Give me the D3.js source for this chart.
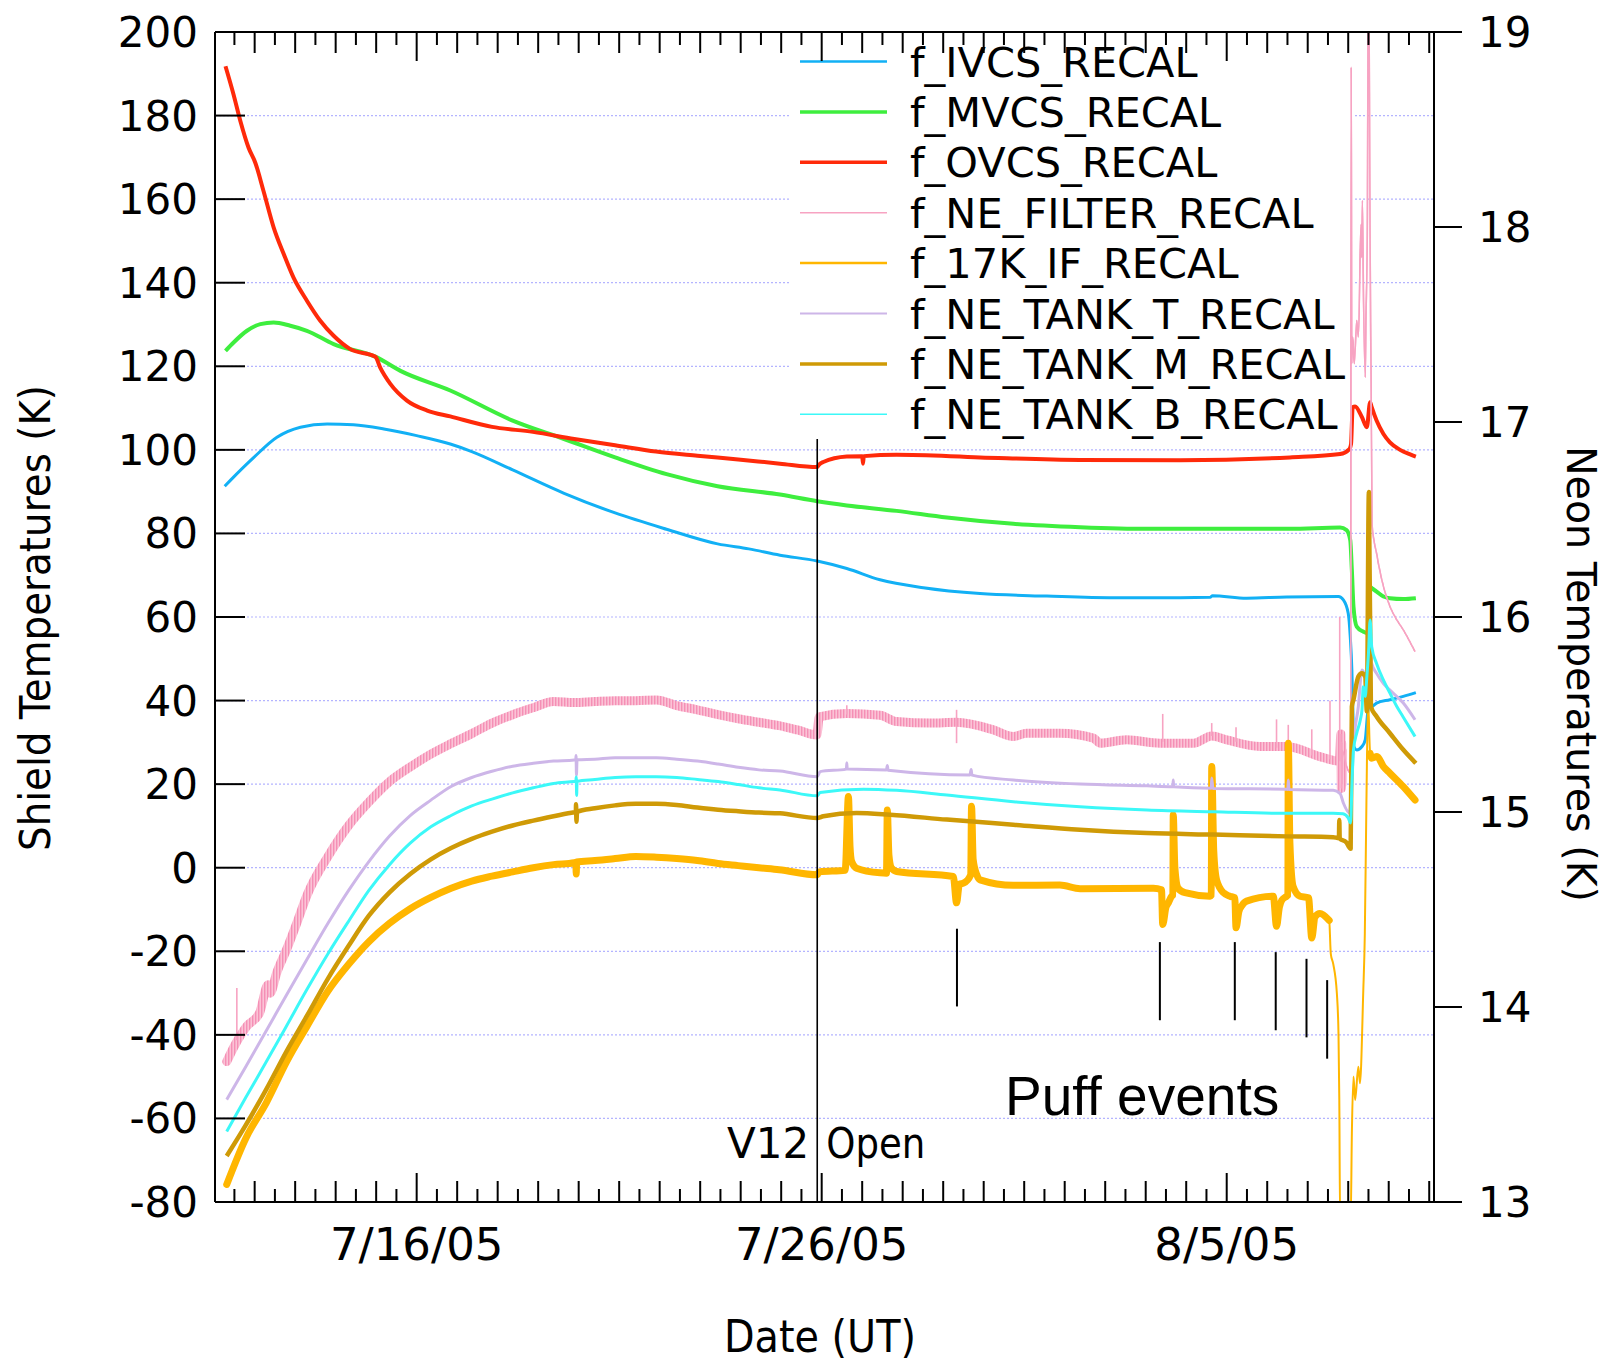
<!DOCTYPE html>
<html><head><meta charset="utf-8">
<script src="https://cdn.jsdelivr.net/npm/d3@7"></script>
<style>
html,body{margin:0;padding:0;background:#fff;}
svg{display:block;}
text{font-family:"DejaVu Sans",sans-serif;fill:#000;}
</style>
</head><body>
<svg id="chart" width="1608" height="1361"></svg>
<script>
// ---- data (time = day of July 2005, 32 = Aug 1) ----
const seriesNames = ["f_IVCS_RECAL","f_MVCS_RECAL","f_OVCS_RECAL","f_NE_FILTER_RECAL","f_17K_IF_RECAL","f_NE_TANK_T_RECAL","f_NE_TANK_M_RECAL","f_NE_TANK_B_RECAL"];

// shield temperatures (left axis, K)
const ivcs = [[11.26,91.3],[11.40,92.7],[11.98,98.2],[12.55,103.0],[13.13,105.4],[13.79,106.2],[14.44,106.0],[15.19,105.0],[16.00,103.4],[16.83,101.4],[17.36,99.6],[18.37,95.2],[19.64,89.6],[20.90,84.9],[22.17,81.0],[23.43,77.5],[24.20,76.3],[24.97,74.8],[25.89,73.4],[26.62,71.6],[27.44,68.9],[28.51,67.0],[29.91,65.6],[31.56,65.0],[33.21,64.6],[34.85,64.6],[35.59,64.7],[35.65,65.1],[36.49,64.5],[37.48,64.8],[38.76,64.9],[38.88,64.1],[39.00,60.9],[39.05,55.3],[39.09,47.3],[39.11,39.4],[39.14,29.0],[39.21,28.2],[39.34,29.0],[39.42,30.6],[39.48,37.0],[39.54,39.5],[39.58,38.6],[39.70,39.4],[40.03,40.2],[40.36,41.0],[40.67,41.9]];
const mvcs = [[11.28,123.7],[11.48,125.7],[11.81,128.5],[12.14,130.1],[12.47,130.5],[12.88,129.7],[13.29,128.5],[13.95,125.3],[14.98,122.3],[15.60,118.9],[16.83,114.2],[18.37,107.0],[19.64,102.6],[20.90,98.2],[22.17,94.2],[23.43,91.3],[24.97,89.3],[25.89,87.7],[26.62,86.7],[27.85,85.4],[29.09,83.8],[30.73,82.3],[32.38,81.5],[34.03,81.1],[35.68,81.1],[37.56,81.1],[38.80,81.4],[38.96,80.8],[39.05,78.4],[39.09,71.2],[39.13,62.5],[39.21,57.7],[39.37,56.5],[39.48,56.1],[39.53,67.3],[39.58,66.9],[39.70,66.1],[39.87,64.9],[40.03,64.5],[40.36,64.3],[40.67,64.5]];
const ovcs = [[11.28,191.8],[11.48,185.0],[11.65,178.6],[11.85,172.3],[12.02,168.6],[12.22,161.9],[12.47,153.2],[12.72,146.8],[12.96,141.2],[13.29,135.7],[13.62,130.9],[13.95,127.3],[14.36,124.1],[14.98,122.3],[15.10,119.7],[15.35,115.8],[15.76,111.8],[16.26,109.4],[16.83,108.0],[17.86,105.5],[18.87,104.3],[19.89,102.6],[20.90,101.1],[21.91,99.6],[22.93,98.6],[23.94,97.7],[24.97,96.7],[25.89,95.9],[25.93,96.4],[26.04,97.1],[26.62,98.4],[27.00,98.5],[27.02,96.7],[27.04,98.5],[27.85,98.8],[29.91,98.2],[32.38,97.6],[34.85,97.5],[37.56,98.2],[38.80,99.0],[39.03,100.2],[39.07,101.4],[39.11,110.2],[39.17,110.4],[39.34,107.8],[39.46,105.4],[39.54,111.4],[39.58,110.2],[39.70,107.0],[39.87,103.8],[40.03,101.8],[40.28,100.0],[40.53,98.9],[40.67,98.4]];

// neon temperatures (right axis, K)
const neFilter = [[11.31,13.720],[11.50,13.800],[11.80,13.900],[12.12,13.969],[12.33,14.114],[12.38,14.071],[12.55,14.179],[12.79,14.296],[13.05,14.436],[13.30,14.577],[13.81,14.772],[14.32,14.931],[14.82,15.051],[15.33,15.156],[15.84,15.231],[16.35,15.297],[16.85,15.351],[17.36,15.402],[17.86,15.456],[18.37,15.499],[18.88,15.535],[19.38,15.567],[19.89,15.561],[20.40,15.567],[20.90,15.571],[21.41,15.571],[21.92,15.575],[22.42,15.546],[22.93,15.524],[23.44,15.499],[23.94,15.478],[24.45,15.460],[24.95,15.443],[25.40,15.421],[25.88,15.395],[25.94,15.488],[26.62,15.505],[27.44,15.496],[27.85,15.464],[28.68,15.456],[29.32,15.460],[30.24,15.421],[30.73,15.387],[31.06,15.404],[31.88,15.404],[32.71,15.379],[32.87,15.353],[33.53,15.370],[34.35,15.353],[35.18,15.353],[35.63,15.390],[36.00,15.370],[36.82,15.336],[37.48,15.336],[38.30,15.284],[38.63,15.265],[38.78,15.260],[38.82,15.400],[38.83,15.121],[38.84,15.357],[38.85,15.143],[38.86,15.314],[38.96,15.233],[39.05,15.199],[39.06,15.200],[39.075,18.820],[39.09,17.300],[39.11,17.436],[39.15,17.299],[39.21,17.521],[39.25,17.436],[39.30,17.896],[39.32,18.014],[39.33,17.843],[39.35,18.136],[39.38,17.607],[39.42,17.230],[39.44,17.543],[39.47,17.929],[39.50,19.600],[39.54,17.982],[39.59,16.471],[39.70,16.326],[39.87,16.156],[40.03,16.054],[40.20,15.985],[40.36,15.934],[40.65,15.822]];
// narrow spikes on the filter trace: [day, low, high]
const neFilterSpikes = [[11.56,13.83,14.097],[26.62,15.50,15.548],[29.33,15.353,15.524],[34.42,15.36,15.503],[35.63,15.39,15.456],[36.23,15.36,15.434],[37.23,15.33,15.475],[37.52,15.32,15.447],[38.10,15.29,15.424],[38.55,15.27,15.571],[38.79,15.26,16.000]];
const if17k = [[11.31,13.090],[11.78,13.326],[12.29,13.510],[12.79,13.720],[13.30,13.904],[13.81,14.082],[14.32,14.219],[14.82,14.335],[15.33,14.429],[15.84,14.504],[16.35,14.562],[16.85,14.609],[17.36,14.646],[17.86,14.671],[18.37,14.693],[18.88,14.714],[19.38,14.730],[19.89,14.740],[19.93,14.742],[19.94,14.682],[19.95,14.744],[20.40,14.751],[20.90,14.761],[21.41,14.772],[21.92,14.768],[22.42,14.761],[22.93,14.751],[23.44,14.736],[23.94,14.725],[24.45,14.714],[24.95,14.704],[25.89,14.678],[25.94,14.693],[26.58,14.701],[26.66,15.079],[26.70,14.821],[26.74,14.746],[26.86,14.712],[27.44,14.688],[27.60,14.686],[27.62,15.010],[27.66,14.779],[27.72,14.714],[27.85,14.695],[29.25,14.669],[29.33,14.534],[29.40,14.630],[29.50,14.635],[29.68,14.678],[29.70,15.029],[29.74,14.757],[29.83,14.678],[29.91,14.652],[30.73,14.624],[31.88,14.626],[32.38,14.607],[34.19,14.609],[34.39,14.601],[34.42,14.423],[34.50,14.511],[34.56,14.534],[34.64,14.568],[34.67,14.573],[34.68,14.986],[34.72,14.714],[34.80,14.609],[34.97,14.586],[35.59,14.568],[35.62,14.573],[35.63,15.233],[35.68,14.800],[35.75,14.652],[35.92,14.586],[36.08,14.568],[36.20,14.560],[36.23,14.406],[36.30,14.489],[36.37,14.518],[36.49,14.543],[37.15,14.568],[37.23,14.414],[37.30,14.511],[37.36,14.547],[37.48,14.568],[37.51,14.573],[37.52,15.353],[37.56,14.843],[37.64,14.618],[37.81,14.568],[38.02,14.560],[38.10,14.354],[38.18,14.461],[38.30,14.479],[38.53,14.444],[38.57,14.273],[38.63,14.221],[38.72,14.069],[38.76,13.864],[38.78,13.523],[38.80,12.890],[39.06,12.890],[39.09,13.351],[39.13,13.643],[39.17,13.523],[39.25,13.694],[39.29,13.609],[39.37,14.069],[39.41,14.376],[39.45,15.059],[39.49,15.571],[39.54,15.301],[39.58,15.276],[39.71,15.284],[39.87,15.233],[40.03,15.199],[40.36,15.130],[40.65,15.061]];
const tankT = [[11.31,13.525],[11.78,13.694],[12.29,13.879],[12.79,14.063],[13.30,14.247],[13.81,14.429],[14.32,14.598],[14.82,14.746],[15.33,14.877],[15.84,14.982],[16.35,15.061],[16.85,15.131],[17.36,15.177],[17.86,15.209],[18.37,15.235],[18.88,15.250],[19.38,15.261],[19.89,15.267],[19.93,15.268],[19.935,15.290],[19.945,15.190],[19.96,15.268],[20.40,15.271],[20.90,15.278],[21.41,15.278],[21.92,15.278],[22.42,15.271],[22.93,15.261],[23.44,15.246],[23.94,15.229],[24.45,15.216],[24.97,15.210],[25.89,15.181],[25.96,15.207],[26.61,15.220],[26.62,15.252],[26.63,15.220],[27.60,15.216],[27.62,15.239],[27.64,15.214],[29.66,15.190],[29.69,15.218],[29.71,15.189],[30.73,15.164],[32.38,15.143],[34.03,15.134],[34.67,15.130],[34.68,15.164],[34.69,15.129],[35.62,15.122],[35.63,15.175],[35.66,15.121],[37.48,15.117],[37.51,15.116],[37.52,15.164],[37.54,15.115],[38.63,15.111],[38.80,15.094],[38.88,15.046],[39.03,14.995],[39.09,15.164],[39.13,15.336],[39.25,15.541],[39.34,15.728],[39.42,15.694],[39.48,15.576],[39.54,15.814],[39.58,15.762],[39.70,15.711],[39.87,15.659],[40.03,15.625],[40.36,15.559],[40.65,15.473]];
const tankM = [[11.31,13.236],[11.78,13.394],[12.29,13.579],[12.79,13.774],[13.30,13.958],[13.81,14.146],[14.32,14.314],[14.82,14.468],[15.33,14.588],[15.84,14.682],[16.35,14.757],[16.85,14.815],[17.36,14.862],[17.86,14.899],[18.37,14.931],[18.88,14.956],[19.38,14.978],[19.89,14.999],[19.93,15.000],[19.935,15.040],[19.945,14.950],[19.96,15.001],[20.40,15.019],[20.90,15.034],[21.41,15.042],[21.92,15.042],[22.42,15.036],[22.93,15.023],[23.44,15.012],[23.94,15.004],[24.45,14.997],[24.97,14.993],[25.89,14.969],[26.04,14.978],[26.86,14.995],[27.69,14.986],[29.09,14.961],[30.73,14.935],[32.38,14.909],[34.03,14.892],[35.68,14.884],[37.48,14.875],[38.63,14.871],[38.77,14.866],[38.78,14.959],[38.79,14.864],[38.95,14.845],[39.06,14.811],[39.09,15.541],[39.13,15.576],[39.25,15.694],[39.34,15.711],[39.42,15.694],[39.46,15.516],[39.51,16.641],[39.56,15.541],[39.70,15.490],[40.03,15.404],[40.36,15.319],[40.67,15.250]];
const tankB = [[11.31,13.362],[11.78,13.536],[12.29,13.720],[12.79,13.904],[13.30,14.093],[13.81,14.273],[14.32,14.440],[14.82,14.598],[15.33,14.730],[15.84,14.840],[16.35,14.924],[16.85,14.982],[17.36,15.031],[17.86,15.066],[18.37,15.098],[18.88,15.124],[19.38,15.146],[19.89,15.156],[19.93,15.157],[19.94,15.180],[19.95,15.085],[19.96,15.158],[20.40,15.167],[20.90,15.177],[21.41,15.181],[21.92,15.181],[22.42,15.177],[22.93,15.167],[23.44,15.156],[23.94,15.141],[24.45,15.124],[24.97,15.113],[25.89,15.083],[25.96,15.100],[27.03,15.117],[27.85,15.111],[29.09,15.087],[30.73,15.053],[32.38,15.027],[34.03,15.010],[35.68,15.001],[37.48,14.993],[38.63,14.994],[38.87,14.991],[39.00,14.970],[39.06,14.944],[39.09,15.130],[39.13,15.319],[39.21,15.404],[39.30,15.473],[39.34,15.524],[39.37,15.642],[39.42,15.593],[39.46,15.694],[39.50,15.814],[39.54,15.985],[39.58,15.848],[39.70,15.762],[39.87,15.676],[40.03,15.610],[40.20,15.541],[40.36,15.486],[40.65,15.387]];

// axes
const leftTicks = [-80,-60,-40,-20,0,20,40,60,80,100,120,140,160,180,200];
const rightTicks = [13,14,15,16,17,18,19];
const dateLabels = ["7/16/05","7/26/05","8/5/05"];
const dateLabelDays = [16,26,36];

// annotations
const v12Day = 25.89, v12Top = 102.6;
const puffDays = [29.34,34.35,36.20,37.21,37.97,38.48];
const puffTop = [-14.6,-17.8,-17.8,-20.2,-21.8,-26.9];
const puffBottom = [-33.2,-36.5,-36.5,-38.9,-40.6,-45.7];

// ---- drawing ----
const svg = d3.select("#chart");
const L = 215, R = 1434, T = 32, B = 1202;
const dayToDate = d => new Date(Date.UTC(2005,6,1) + (d-1)*864e5);
const x = d3.scaleUtc().domain([dayToDate(11.0208), dayToDate(41.118)]).range([L,R]);
const yL = d3.scaleLinear().domain([-80,200]).range([B,T]);
const yR = d3.scaleLinear().domain([13,19]).range([B,T]);

svg.append("rect").attr("width",1608).attr("height",1361).attr("fill","#fff");
const defs = svg.append("defs");
defs.append("clipPath").attr("id","plot").append("rect").attr("x",L).attr("y",T).attr("width",R-L).attr("height",B-T);
// vertical hatch used for the noisy filter trace
const hatch = defs.append("pattern").attr("id","pinkHatch").attr("patternUnits","userSpaceOnUse")
  .attr("width",3).attr("height",12);
hatch.append("rect").attr("width",3).attr("height",12).attr("fill","#fbc3d6");
hatch.append("rect").attr("width",1.4).attr("height",12).attr("fill","#f58fb5");

// gridlines
svg.append("g").selectAll("line").data(leftTicks.filter(v=>v>-80 && v<200)).join("line")
  .attr("x1",L).attr("x2",R).attr("y1",d=>yL(d)).attr("y2",d=>yL(d))
  .attr("stroke","#b4b4ff").attr("stroke-width",1.2).attr("stroke-dasharray","2,2");

// legend background
svg.append("rect").attr("x",790).attr("y",34).attr("width",563).attr("height",406).attr("fill","#fff");

const series = [
  {data:ivcs, y:yL, color:"#12b0f5", w:3,   lw:2.5},
  {data:mvcs, y:yL, color:"#3eee3e", w:4,   lw:3.5},
  {data:ovcs, y:yL, color:"#ff2a0a", w:4,   lw:3.5},
  {data:neFilter, y:yR, color:"#f7a3c2", w:1.5, lw:1.5, band:9, bandPaint:"url(#pinkHatch)", bandOn:d=>d[0]<=38.87},
  {data:if17k, y:yR, color:"#ffb600", w:2,  lw:2.5, band:7, bandOn:d=>d[0]<38.55||d[0]>39.52},
  {data:tankT, y:yR, color:"#cdb6e8", w:3,  lw:2},
  {data:tankM, y:yR, color:"#cf9a06", w:4.5,lw:3.5},
  {data:tankB, y:yR, color:"#3cf8f8", w:3,  lw:1.5}
];

const gData = svg.append("g").attr("clip-path","url(#plot)");
series.forEach((s,i) => {
  const mk = () => d3.line().curve(d3.curveMonotoneX).x(d=>x(dayToDate(d[0]))).y(d=>s.y(d[1]));
  if (s.band) {
    gData.append("path").attr("d", mk().defined(s.bandOn)(s.data))
      .attr("fill","none").attr("stroke",s.bandPaint || s.color).attr("stroke-width",s.band)
      .attr("stroke-linejoin","round").attr("stroke-linecap","round");
  }
  gData.append("path").attr("d",mk()(s.data)).attr("fill","none")
    .attr("stroke",s.bandPaint || s.color).attr("stroke-width",s.w).attr("stroke-linejoin","round");
  if (i === 3) {
    gData.append("g").selectAll("line").data(neFilterSpikes).join("line")
      .attr("x1",d=>x(dayToDate(d[0]))).attr("x2",d=>x(dayToDate(d[0])))
      .attr("y1",d=>yR(d[1])).attr("y2",d=>yR(d[2]))
      .attr("stroke",s.color).attr("stroke-width",1.6);
    // thin trace after the noisy section
    gData.append("path").attr("d",mk().defined(d=>d[0]>=38.8)(s.data)).attr("fill","none")
      .attr("stroke",s.color).attr("stroke-width",1.5).attr("stroke-linejoin","round");
  }
});

// annotations
const xv = x(dayToDate(v12Day));
svg.append("line").attr("x1",xv).attr("x2",xv).attr("y1",yL(v12Top)).attr("y2",B).attr("stroke","#000").attr("stroke-width",1.6);
svg.append("text").attr("x",xv-8).attr("y",1158).attr("text-anchor","end").attr("font-size",42).text("V12");
svg.append("text").attr("x",xv+9).attr("y",1158).attr("font-size",42)
  .attr("textLength",99).attr("lengthAdjust","spacingAndGlyphs").text("Open");
svg.append("g").selectAll("line").data(puffDays).join("line")
  .attr("x1",d=>x(dayToDate(d))).attr("x2",d=>x(dayToDate(d)))
  .attr("y1",(d,i)=>yL(puffTop[i])).attr("y2",(d,i)=>yL(puffBottom[i]))
  .attr("stroke","#000").attr("stroke-width",2);
svg.append("text").attr("x",1005).attr("y",1115).attr("font-size",55)
  .style("font-family","'Liberation Sans', Arial, sans-serif").text("Puff events");

// legend
const legY0 = 61.5, legDY = 50.4;
const gLeg = svg.append("g");
series.forEach((s,i) => {
  const yy = legY0 + i*legDY;
  gLeg.append("line").attr("x1",800).attr("x2",887).attr("y1",yy).attr("y2",yy)
    .attr("stroke",s.color).attr("stroke-width",s.lw);
  gLeg.append("text").attr("x",910).attr("y",yy+15).attr("font-size",41.5).text(seriesNames[i]);
});

// frame & ticks
const gAx = svg.append("g").attr("stroke","#000").attr("stroke-width",2);
gAx.append("line").attr("x1",L).attr("x2",R).attr("y1",T).attr("y2",T);
gAx.append("line").attr("x1",L).attr("x2",R).attr("y1",B).attr("y2",B);
gAx.append("line").attr("x1",L).attr("x2",L).attr("y1",T).attr("y2",B);
gAx.append("line").attr("x1",R).attr("x2",R).attr("y1",T).attr("y2",B);

const majorSet = new Set(dateLabelDays.map(d=>+dayToDate(d)));
const halfDays = d3.utcHour.every(12).range(x.domain()[0], x.domain()[1]);
halfDays.forEach(t => {
  const len = majorSet.has(+t) ? 29 : (t.getUTCHours()===0 ? 21 : 13);
  const xx = x(t);
  gAx.append("line").attr("x1",xx).attr("x2",xx).attr("y1",B).attr("y2",B-len);
  gAx.append("line").attr("x1",xx).attr("x2",xx).attr("y1",T).attr("y2",T+len);
});
leftTicks.forEach(v => {
  gAx.append("line").attr("x1",L).attr("x2",L+30).attr("y1",yL(v)).attr("y2",yL(v));
  svg.append("text").attr("x",198).attr("y",yL(v)+15).attr("text-anchor","end").attr("font-size",42).text(v);
});
rightTicks.forEach(v => {
  gAx.append("line").attr("x1",R).attr("x2",R+28).attr("y1",yR(v)).attr("y2",yR(v));
  svg.append("text").attr("x",1478).attr("y",yR(v)+15).attr("font-size",42).text(v);
});
dateLabelDays.forEach((d,i) => {
  svg.append("text").attr("x",x(dayToDate(d))).attr("y",1260).attr("text-anchor","middle").attr("font-size",45).text(dateLabels[i]);
});

// axis titles
svg.append("text").attr("transform","translate(50,618) rotate(-90)").attr("text-anchor","middle")
  .attr("font-size",42).attr("textLength",466).attr("lengthAdjust","spacingAndGlyphs").text("Shield Temperatures (K)");
svg.append("text").attr("transform","translate(1567,674) rotate(90)").attr("text-anchor","middle")
  .attr("font-size",41).attr("textLength",456).attr("lengthAdjust","spacingAndGlyphs").text("Neon Temperatures (K)");
svg.append("text").attr("x",820).attr("y",1352).attr("text-anchor","middle")
  .attr("font-size",44).attr("textLength",192).attr("lengthAdjust","spacingAndGlyphs").text("Date (UT)");
</script>
</body></html>
